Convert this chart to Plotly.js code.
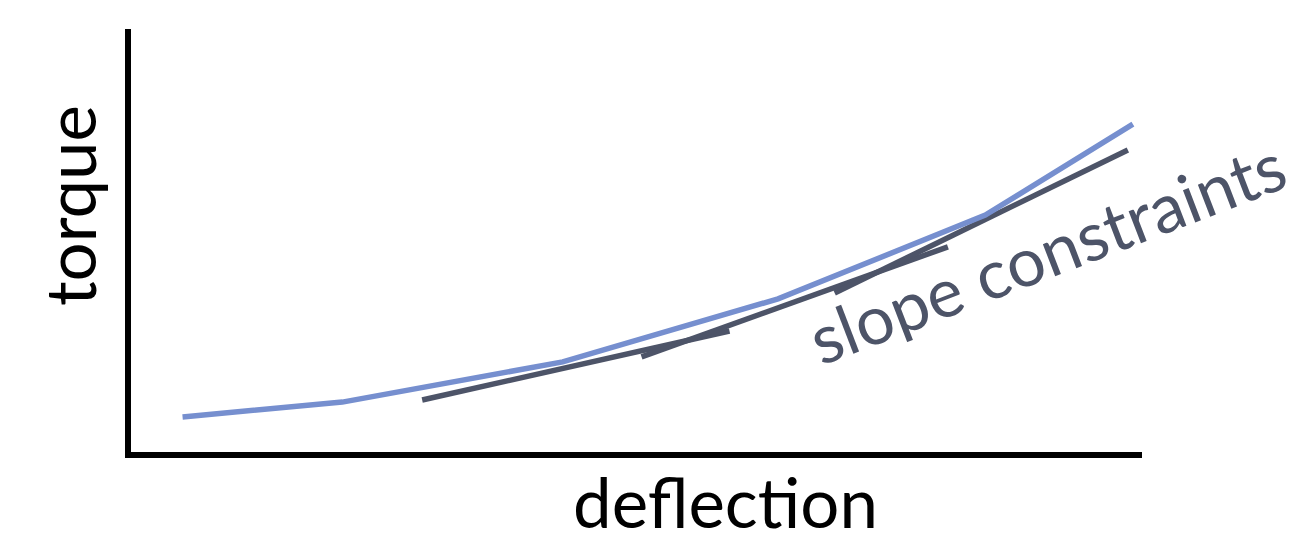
<!DOCTYPE html>
<html>
<head>
<meta charset="utf-8">
<script src="https://cdn.plot.ly/plotly-3.0.1.min.js"></script>
<style>html,body{margin:0;padding:0;background:#fff;}#chart{width:1294px;height:536px;}</style>
</head>
<body>
<div id="chart"></div>
<script>
// Curve (torque vs deflection), arbitrary units
const deflection = [0.51, 2.09, 4.27, 6.40, 8.45, 9.91];
const torque     = [0.83, 1.18, 2.13, 3.62, 5.60, 7.75];

// Slope-constraint segments (start/end points)
const slopeX0 = [2.88, 5.05, 6.96];
const slopeY0 = [1.23, 2.25, 3.76];
const slopeX1 = [5.92, 8.08, 9.86];
const slopeY1 = [2.86, 4.85, 7.14];

const xTitle = "deflection";
const yTitle = "torque";
const noteText = "slope constraints";

const segX = [], segY = [];
for (let i = 0; i < slopeX0.length; i++) {
  segX.push(slopeX0[i], slopeX1[i], null);
  segY.push(slopeY0[i], slopeY1[i], null);
}

const blue = "#768fcf";
const dark = "#4d5468";
const font = "Lato, 'Open Sans', sans-serif";

const traces = [
  {x: segX, y: segY, mode: "lines", line: {color: dark, width: 5.5}, hoverinfo: "skip", connectgaps: false},
  {x: deflection, y: torque, mode: "lines", line: {color: blue, width: 5.5}, hoverinfo: "skip"}
];

const layout = {
  width: 1294, height: 536,
  margin: {l: 131, r: 152, t: 29, b: 84},
  paper_bgcolor: "#fff", plot_bgcolor: "#fff",
  showlegend: false,
  font: {family: font},
  xaxis: {range: [0, 10], showline: true, linecolor: "#000", linewidth: 6,
          showgrid: false, zeroline: false, showticklabels: false, ticks: ""},
  yaxis: {range: [0, 10], showline: true, linecolor: "#000", linewidth: 6,
          showgrid: false, zeroline: false, showticklabels: false, ticks: ""},
  annotations: [
    {text: xTitle, xref: "paper", yref: "paper", x: (725 - 131) / 1011, y: (452 - 501) / 423,
     xanchor: "center", yanchor: "middle", height: 62, showarrow: false, font: {family: font, size: 69, color: "#000"}},
    {text: yTitle, xref: "paper", yref: "paper", x: (69 - 131) / 1011, y: (452 - 206) / 423,
     xanchor: "center", yanchor: "middle", textangle: -90, showarrow: false, font: {family: font, size: 69, color: "#000"}},
    {text: noteText, xref: "x", yref: "y", x: 9.06, y: 4.75, height: 70,
     xanchor: "center", yanchor: "middle", textangle: -21, showarrow: false, font: {family: font, size: 68, color: dark}}
  ]
};

Plotly.newPlot("chart", traces, layout, {staticPlot: true, displayModeBar: false});
</script>
</body>
</html>
